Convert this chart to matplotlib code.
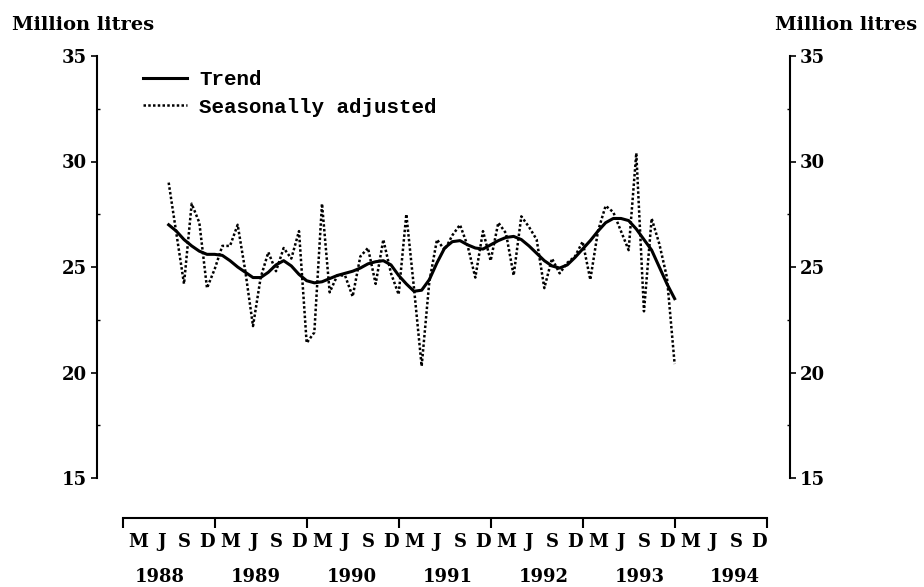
import matplotlib.pyplot as plt
import numpy as np

# Monthly data, July 1988 - January 1994 (million litres)
months = np.arange(6, 73)  # month index, 0 = January 1988

seasonally_adjusted = [29.0, 26.6, 24.2, 28.0, 27.1, 24.0,
                       24.9, 26.0, 26.0, 27.0, 24.8, 22.2, 24.5, 25.7, 24.8, 25.9, 25.4, 26.7,
                       21.4, 21.9, 28.0, 23.8, 24.6, 24.6, 23.6, 25.5, 25.9, 24.2, 26.3, 24.7,
                       23.7, 27.5, 24.0, 20.3, 24.3, 26.3, 25.8, 26.5, 27.0, 26.0, 24.5, 26.7,
                       25.3, 27.1, 26.6, 24.6, 27.4, 26.9, 26.3, 24.0, 25.4, 24.7, 25.2, 25.5,
                       26.2, 24.4, 26.7, 27.9, 27.6, 26.7, 25.8, 30.4, 22.9, 27.3, 26.1, 24.5,
                       20.4]

trend = [27.0, 26.7, 26.3, 26.0, 25.75, 25.6,
         25.6, 25.55, 25.3, 25.0, 24.75, 24.5, 24.5, 24.75, 25.1, 25.3, 25.05, 24.65,
         24.35, 24.25, 24.3, 24.45, 24.6, 24.7, 24.8, 24.95, 25.15, 25.25, 25.3, 25.1,
         24.6, 24.2, 23.85, 23.9, 24.4, 25.2, 25.9, 26.2, 26.25, 26.05, 25.9, 25.85,
         26.05, 26.25, 26.4, 26.45, 26.3, 26.0, 25.65, 25.3, 25.05, 24.95, 25.1, 25.45,
         25.85, 26.25, 26.7, 27.1, 27.3, 27.3, 27.2, 26.8, 26.3, 25.8, 25.0, 24.2,
         23.5]

years = ['1988', '1989', '1990', '1991', '1992', '1993', '1994']
month_letters = ['M', 'J', 'S', 'D']

plt.rcParams['font.family'] = 'DejaVu Serif'
plt.rcParams['font.weight'] = 'bold'

fig = plt.figure(figsize=(9.24, 5.87), dpi=100)
ax = fig.add_axes([97 / 924, 1 - 478 / 587, 693 / 924, 422 / 587])

ax.plot(months, trend, color='black', lw=2.2, label='Trend')
ax.plot(months, seasonally_adjusted, color='black', lw=1.8,
        linestyle=(0, (1.0, 0.9)), label='Seasonally adjusted')

ax.set_xlim(-3.35, 87.05)
ax.set_ylim(15, 35)

# y axes on both sides
ax.set_yticks([15, 20, 25, 30, 35])
ax.set_yticks(np.arange(17.5, 35, 2.5), minor=True)
ax.tick_params(axis='y', which='major', direction='out', length=4, width=1.2,
               labelsize=13, left=True, right=True, labelleft=True, labelright=True, pad=3)
ax.tick_params(axis='y', which='minor', direction='in', length=2, width=1.0,
               left=True, right=True)
for lab in ax.get_yticklabels():
    lab.set_fontweight('bold')

ax.spines['top'].set_visible(False)
ax.spines['left'].set_linewidth(1.5)
ax.spines['right'].set_linewidth(1.5)

# detached time axis underneath
ax.spines['bottom'].set_position(('outward', 28.8))
ax.spines['bottom'].set_bounds(0, 84)
ax.spines['bottom'].set_linewidth(1.5)
ax.set_xticks(np.arange(0, 85, 12))
ax.tick_params(axis='x', which='major', direction='out', length=7, width=1.5,
               labelbottom=False)
minor_pos = [12 * y + m for y in range(7) for m in (2, 5, 8, 11)]
ax.set_xticks(minor_pos, minor=True)
ax.set_xticklabels(month_letters * 7, minor=True, fontsize=13, fontweight='bold')
ax.tick_params(axis='x', which='minor', length=0, pad=11)

for k, yr in enumerate(years):
    ax.text(4.9 + 12.5 * k, -0.2346, yr, transform=ax.get_xaxis_transform(),
            ha='center', va='center', fontsize=13, fontweight='bold')

fig.text(12 / 924, 1 - 25 / 587, 'Million litres', ha='left', va='center',
         fontsize=14, fontweight='bold')
fig.text(775 / 924, 1 - 25 / 587, 'Million litres', ha='left', va='center',
         fontsize=14, fontweight='bold')

leg = ax.legend(loc='upper left', bbox_to_anchor=((143 - 97) / 693, 1 - (70 - 56) / 422),
                frameon=False, prop={'family': 'Liberation Mono', 'weight': 'bold', 'size': 15},
                handlelength=2.1, handletextpad=0.6, labelspacing=0.42,
                borderpad=0, borderaxespad=0)

fig.savefig('out.png', dpi=100)
